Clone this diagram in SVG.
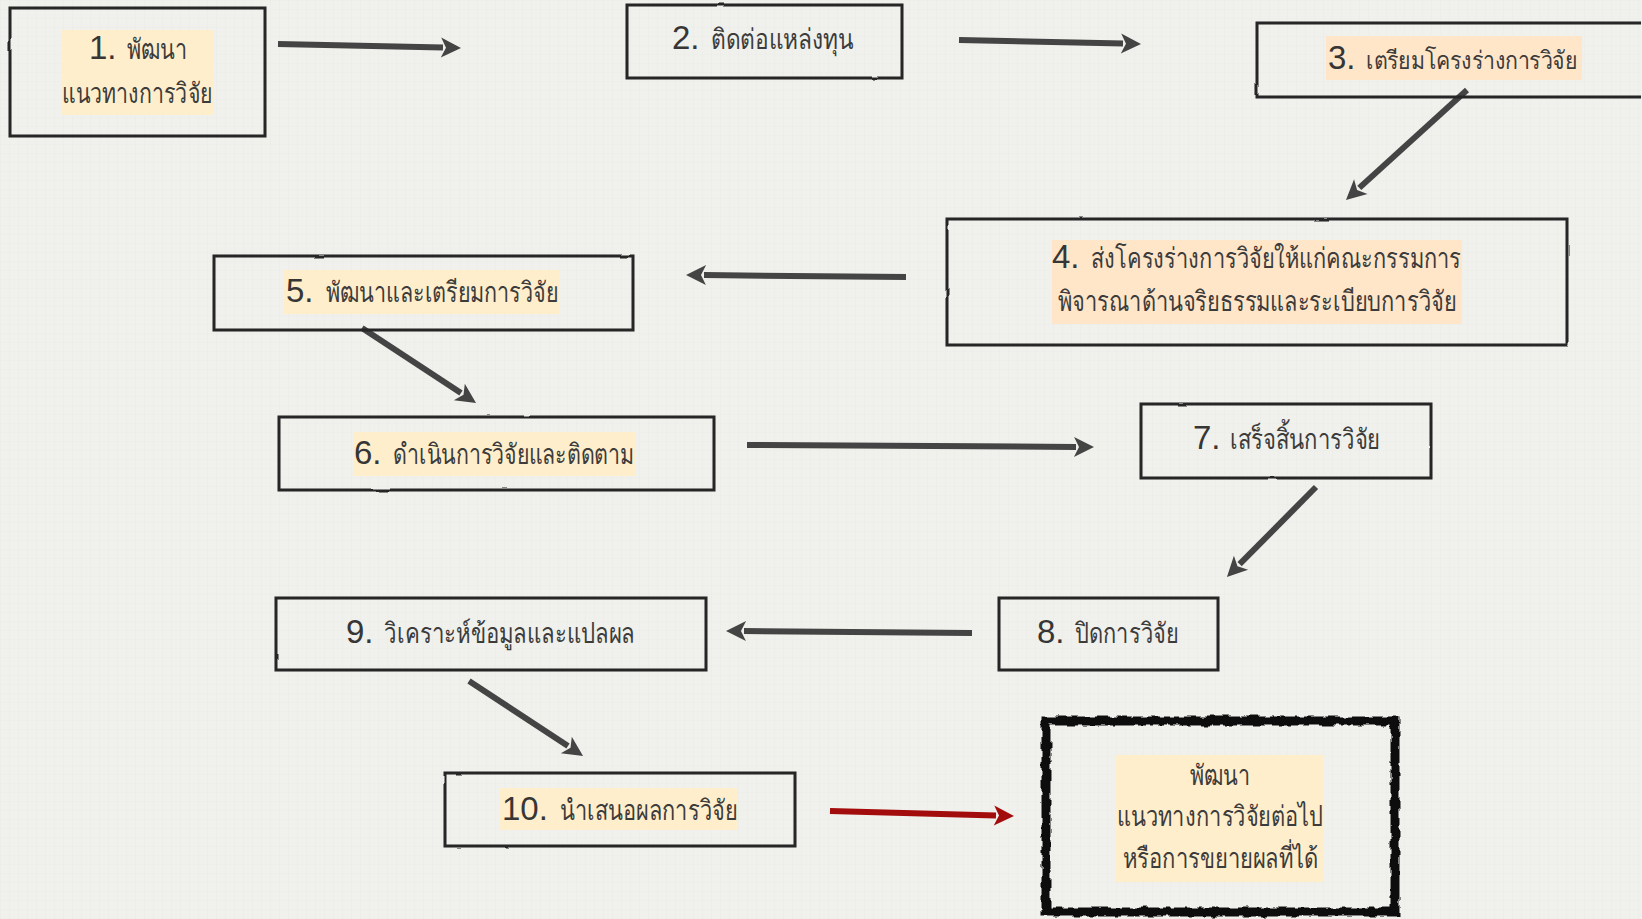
<svg xmlns="http://www.w3.org/2000/svg" width="1642" height="919" viewBox="0 0 1642 919">
<defs>
<style>
.box{fill:none;stroke:#262626;stroke-width:3;filter:url(#rough)}
.final{fill:none;stroke:#111;stroke-width:9;filter:url(#rough2)}
.hl{fill:#FFEECB}
.hl2{fill:#FFE6C9}
.num{font-family:"Liberation Sans",Arial,sans-serif;font-size:33px;fill:#363636}
.th{font-family:"Noto Sans","DejaVu Sans",sans-serif;font-size:28px;fill:#3c3c3c}
.arr{stroke:#444;stroke-width:6;fill:none;marker-end:url(#ah)}
.red{stroke:#A30C0C;stroke-width:6;fill:none;marker-end:url(#ahr)}
</style>
<pattern id="grid" width="9" height="9" patternUnits="userSpaceOnUse">
<path d="M0.5 0V9" stroke="#000" stroke-opacity="0.012" stroke-width="1"/>
<path d="M0 0.5H9" stroke="#000" stroke-opacity="0.008" stroke-width="1"/>
</pattern>
<filter id="rough" x="-5%" y="-10%" width="110%" height="120%">
<feTurbulence type="fractalNoise" baseFrequency="0.03" numOctaves="2" seed="3"/>
<feDisplacementMap in="SourceGraphic" scale="1.8"/>
</filter>
<filter id="rough2" x="-5%" y="-5%" width="110%" height="110%">
<feTurbulence type="fractalNoise" baseFrequency="0.1" numOctaves="2" seed="7"/>
<feDisplacementMap in="SourceGraphic" scale="6"/>
</filter>
<marker id="ah" markerUnits="userSpaceOnUse" viewBox="-4 -12 24 24" refX="0" refY="0" markerWidth="24" markerHeight="24" orient="auto">
<path d="M18 0 L-2 -10 L3 0 L-2 10 Z" fill="#444"/>
</marker>
<marker id="ahr" markerUnits="userSpaceOnUse" viewBox="-4 -12 24 24" refX="0" refY="0" markerWidth="24" markerHeight="24" orient="auto">
<path d="M18 0 L-2 -10 L3 0 L-2 10 Z" fill="#A30C0C"/>
</marker>
</defs>
<rect width="1642" height="919" fill="#F0F0EC"/>
<rect width="1642" height="919" fill="url(#grid)"/>

<g id="connectors">
<path class="arr" d="M278 44 L443 47.6"/>
<path class="arr" d="M959 40 L1123 43.6"/>
<path class="arr" d="M1467 90 L1359.3 187.9"/>
<path class="arr" d="M906 277 L704 275.1"/>
<path class="arr" d="M362 328 L461 393.1"/>
<path class="arr" d="M747 445 L1076 446.9"/>
<path class="arr" d="M1316 487 L1239.6 564.2"/>
<path class="arr" d="M972 633 L744 631.1"/>
<path class="arr" d="M469 681 L568 746.1"/>
<path class="red" d="M830 811 L996 815.5"/>
</g>

<g id="node1">
<rect class="box" x="10" y="8" width="255" height="128"/>
<rect class="hl" x="61" y="30" width="153" height="85"/>
<text y="59"><tspan class="num" x="89">1. </tspan><tspan class="th" x="127" textLength="60" lengthAdjust="spacingAndGlyphs">พัฒนา</tspan></text>
<text class="th" x="62" y="103" textLength="150" lengthAdjust="spacingAndGlyphs">แนวทางการวิจัย</text>
</g>

<g id="node2">
<rect class="box" x="627" y="5" width="275" height="73"/>
<text y="49"><tspan class="num" x="672">2. </tspan><tspan class="th" x="711" textLength="142" lengthAdjust="spacingAndGlyphs">ติดต่อแหล่งทุน</tspan></text>
</g>

<g id="node3">
<path class="box" d="M1641 23 H1257 V97 H1641"/>
<rect class="hl2" x="1326" y="36" width="256" height="44"/>
<text y="69"><tspan class="num" x="1328">3. </tspan><tspan class="th" x="1366" style="font-size:25px" textLength="212" lengthAdjust="spacingAndGlyphs">เตรียมโครงร่างการวิจัย</tspan></text>
</g>

<g id="node4">
<rect class="box" x="947" y="219" width="620" height="126"/>
<rect class="hl2" x="1052" y="240" width="410" height="84"/>
<text y="268"><tspan class="num" x="1052">4. </tspan><tspan class="th" x="1091" textLength="370" lengthAdjust="spacingAndGlyphs">ส่งโครงร่างการวิจัยให้แก่คณะกรรมการ</tspan></text>
<text class="th" x="1058" y="311" textLength="398" lengthAdjust="spacingAndGlyphs">พิจารณาด้านจริยธรรมและระเบียบการวิจัย</text>
</g>

<g id="node5">
<rect class="box" x="214" y="256" width="419" height="74"/>
<rect class="hl" x="284" y="270" width="275" height="44"/>
<text y="302"><tspan class="num" x="286">5. </tspan><tspan class="th" x="326" textLength="232" lengthAdjust="spacingAndGlyphs">พัฒนาและเตรียมการวิจัย</tspan></text>
</g>

<g id="node6">
<rect class="box" x="279" y="417" width="435" height="73"/>
<rect class="hl" x="353" y="432" width="283" height="44"/>
<text y="464"><tspan class="num" x="354">6. </tspan><tspan class="th" x="393" textLength="241" lengthAdjust="spacingAndGlyphs">ดำเนินการวิจัยและติดตาม</tspan></text>
</g>

<g id="node7">
<rect class="box" x="1141" y="404" width="290" height="74"/>
<text y="449"><tspan class="num" x="1193">7. </tspan><tspan class="th" x="1230" textLength="150" lengthAdjust="spacingAndGlyphs">เสร็จสิ้นการวิจัย</tspan></text>
</g>

<g id="node8">
<rect class="box" x="999" y="598" width="219" height="72"/>
<text y="643"><tspan class="num" x="1037">8. </tspan><tspan class="th" x="1075" textLength="103" lengthAdjust="spacingAndGlyphs">ปิดการวิจัย</tspan></text>
</g>

<g id="node9">
<rect class="box" x="276" y="598" width="430" height="72"/>
<text y="643"><tspan class="num" x="346">9. </tspan><tspan class="th" x="384" textLength="251" lengthAdjust="spacingAndGlyphs">วิเคราะห์ข้อมูลและแปลผล</tspan></text>
</g>

<g id="node10">
<rect class="box" x="445" y="773" width="350" height="73"/>
<rect class="hl" x="500" y="788" width="238" height="42"/>
<text y="820"><tspan class="num" x="502">10. </tspan><tspan class="th" x="560" textLength="177" lengthAdjust="spacingAndGlyphs">นำเสนอผลการวิจัย</tspan></text>
</g>

<g id="node11">
<rect class="final" x="1046" y="721" width="349" height="191"/>
<rect class="hl" x="1116" y="755" width="208" height="127"/>
<text class="th" x="1190" y="785" textLength="60" lengthAdjust="spacingAndGlyphs">พัฒนา</text>
<text class="th" x="1117" y="826" textLength="206" lengthAdjust="spacingAndGlyphs">แนวทางการวิจัยต่อไป</text>
<text class="th" x="1123" y="868" textLength="195" lengthAdjust="spacingAndGlyphs">หรือการขยายผลที่ได้</text>
</g>
</svg>
